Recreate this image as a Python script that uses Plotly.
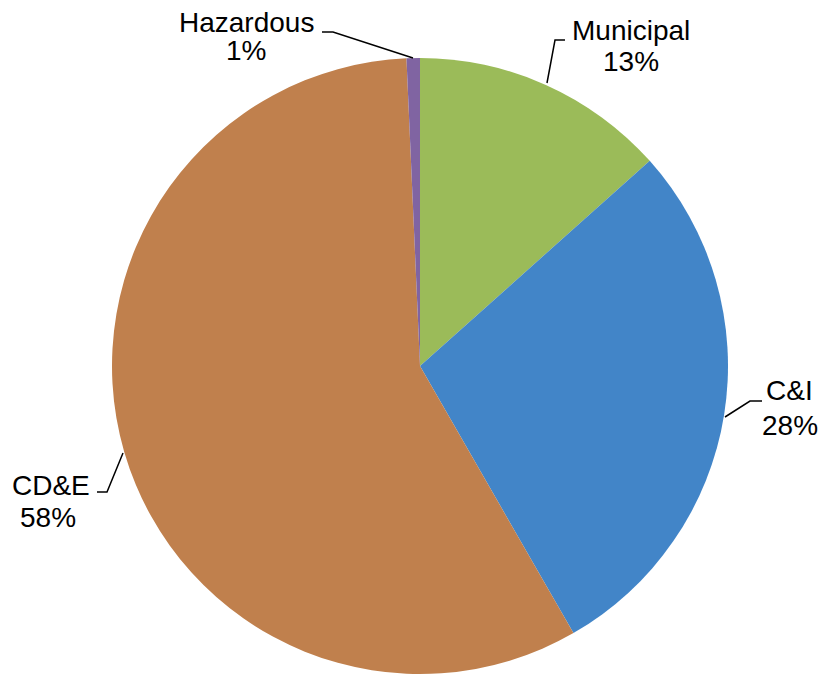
import plotly.graph_objects as go

labels = ["Municipal", "C&I", "CD&E", "Hazardous"]
values = [13.4, 28.3, 57.6, 0.7]
colors = ["#9BBB59", "#4285C8", "#C0804D", "#8064A2"]

W, H = 820, 677

def px(x, y):
    return x / W, 1 - y / H

fig = go.Figure(go.Pie(
    labels=labels, values=values, sort=False, direction="clockwise", rotation=0,
    marker=dict(colors=colors, line=dict(width=0)),
    textinfo="none", hoverinfo="label+percent",
    domain=dict(x=[112 / W, 728 / W], y=[3 / H, 619 / H]),
    showlegend=False,
))

total = sum(values)
pct = {l: f"{round(v / total * 100):.0f}%" for l, v in zip(labels, values)}

# (name x, name y, pct x, pct y) in pixels
label_pos = {
    "Hazardous": (246, 22, 246, 51),
    "Municipal": (631, 31, 631, 62),
    "C&I": (789, 390, 790, 425),
    "CD&E": (51, 485, 48, 517),
}
font = dict(family="Liberation Sans, Arial, sans-serif", size=28, color="#000000")
annotations = []
for l in labels:
    nx, ny, qx, qy = label_pos[l]
    for text, (x, y) in ((l, (nx, ny)), (pct[l], (qx, qy))):
        ax, ay = px(x, y)
        annotations.append(dict(
            x=ax, y=ay, xref="paper", yref="paper", showarrow=False,
            text=text, font=font, xanchor="center", yanchor="middle",
        ))

leaders = [
    [(322, 32), (333, 32), (413, 58)],
    [(565, 40), (555, 40), (547, 83)],
    [(762, 401), (750, 401), (725, 417)],
    [(97, 492), (107, 492), (123, 453)],
]
shapes = []
for pts in leaders:
    path = "M " + " L ".join(f"{px(x, y)[0]:.5f},{px(x, y)[1]:.5f}" for x, y in pts)
    shapes.append(dict(type="path", path=path, xref="paper", yref="paper",
                       line=dict(color="#000000", width=1.5)))

fig.update_layout(
    width=W, height=H, margin=dict(l=0, r=0, t=0, b=0),
    paper_bgcolor="white", plot_bgcolor="white",
    annotations=annotations, shapes=shapes,
)

fig.write_html("out.html", config={"displayModeBar": False},
               post_script="document.body.style.margin='0';")
